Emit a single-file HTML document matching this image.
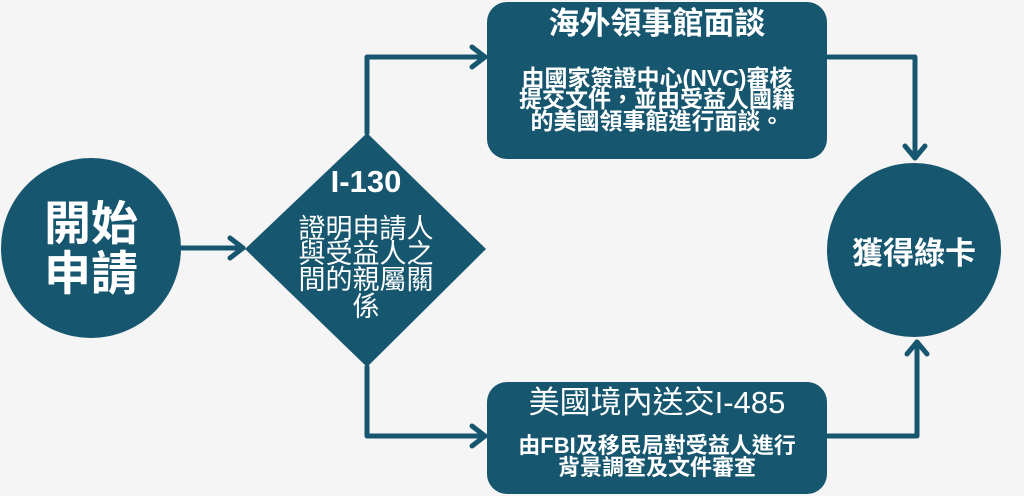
<!DOCTYPE html>
<html><head><meta charset="utf-8"><style>
body{margin:0;background:#f5f5f5;}
svg{display:block}
text{font-family:"Liberation Sans","Noto Sans CJK TC",sans-serif;fill:#fff;text-anchor:middle}
</style></head><body>
<svg width="1024" height="496" viewBox="0 0 1024 496">
<rect width="1024" height="496" fill="#f5f5f5"/>
<g fill="#17566f">
<circle cx="91" cy="248" r="90"/>
<polygon points="367,133 486,249 367,367 245,249"/>
<rect x="487" y="2" width="340" height="157" rx="20"/>
<rect x="487" y="382" width="340" height="112" rx="20"/>
<circle cx="914" cy="250" r="87"/>
</g>
<g stroke="#17566f" stroke-width="5" fill="none" stroke-linecap="round" stroke-linejoin="round">
<path d="M182,248 H243"/><path d="M230,238 L243,248 L230,258"/>
<path d="M367,133 V57 H485"/><path d="M472,47 L485,57 L472,67"/>
<path d="M367,367 V436 H485"/><path d="M472,426 L485,436 L472,446"/>
<path d="M828,57 H915 V158"/><path d="M905,146 L915,158 L925,146"/>
<path d="M828,436 H917 V342"/><path d="M907,354 L917,342 L927,354"/>
</g>
<text x="91" y="240" font-size="47" font-weight="bold">開始</text>
<text x="91" y="290" font-size="47" font-weight="bold">申請</text>
<text x="366" y="192" font-size="31" font-weight="bold">I-130</text>
<g font-size="27">
<text x="366" y="238">證明申請人</text>
<text x="366" y="263">與受益人之</text>
<text x="366" y="289">間的親屬關</text>
<text x="366" y="316">係</text>
</g>
<text x="657" y="34" font-size="31" font-weight="bold">海外領事館面談</text>
<g font-size="23" font-weight="bold">
<text x="657" y="86">由國家簽證中心(NVC)審核</text>
<text x="657" y="107">提交文件，並由受益人國籍</text>
<text x="657" y="129">的美國領事館進行面談。</text>
</g>
<text x="657" y="413" font-size="31">美國境內送交I-485</text>
<g font-size="22" font-weight="bold">
<text x="657" y="453">由FBI及移民局對受益人進行</text>
<text x="657" y="475">背景調查及文件審查</text>
</g>
<text x="914" y="264" font-size="31" font-weight="bold">獲得綠卡</text>
</svg>
</body></html>
